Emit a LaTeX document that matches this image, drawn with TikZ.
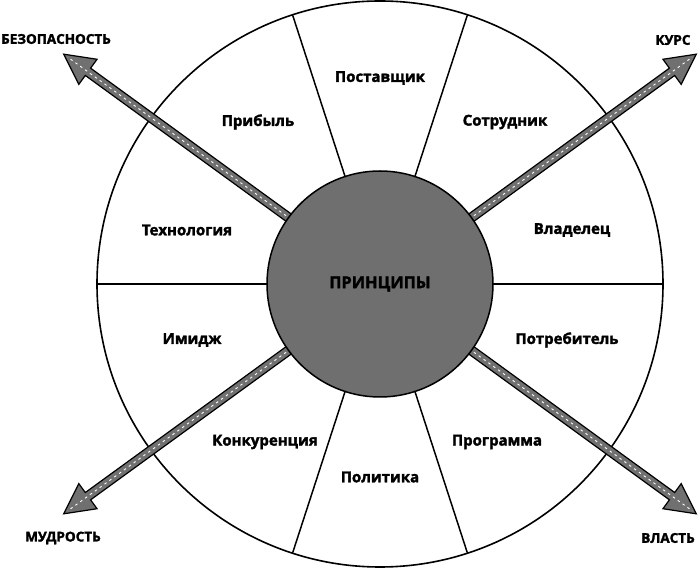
\documentclass[tikz,border=0pt]{standalone}
\usepackage{fontspec}
\setmainfont{Open Sans}[BoldFeatures={FakeBold=2}]
\definecolor{core}{RGB}{111,111,111}
\definecolor{shaft}{RGB}{112,112,112}
\begin{document}
\begin{tikzpicture}[x=1pt,y=1pt,
  lbl/.style={font=\fontsize{15}{17}\selectfont\bfseries},
  olbl/.style={font=\fontsize{13.5}{15}\selectfont\bfseries},
  divline/.style={line width=1.5pt},
  arrowbody/.style={fill=shaft,draw=black,line width=1.2pt,line join=miter},
  lane/.style={draw=white,line width=0.9pt,dash pattern=on 2.5pt off 3.5pt}]
\useasboundingbox (0,0) rectangle (699,570);
\coordinate (O) at (380,286);
\draw[line width=1.6pt] (O) circle (283);
\foreach \a in {0,72,108,180,252,288}
  \draw[divline,shift={(O)}] (\a:110) -- (\a:283);
\foreach \a in {36,144,216,324}{
  \begin{scope}[shift={(O)},rotate=\a]
    \coordinate (tip\a) at (391,0);
    \filldraw[arrowbody] (105,-4.5) -- (361,-4.5) -- (361,-15.5) -- (tip\a) -- (361,15.5) -- (361,4.5) -- (105,4.5) -- cycle;
    \draw[lane] (110,0) -- (386,0);
  \end{scope}}
\node[circle,fill=core,draw=black,line width=1.5pt,minimum size=226pt,inner sep=0pt,font=\fontsize{16.3}{18}\selectfont\bfseries] (c) at (O) {ПРИНЦИПЫ};
\node[lbl] (n1) at (380,492) {Поставщик};
\node[lbl] (n2) at (258,448) {Прибыль};
\node[lbl] (n3) at (505,448) {Сотрудник};
\node[lbl] (n4) at (187,340) {Технология};
\node[lbl] (n5) at (572,340) {Владелец};
\node[lbl] (n6) at (192,230) {Имидж};
\node[lbl] (n7) at (567,230) {Потребитель};
\node[lbl] (n8) at (265,128) {Конкуренция};
\node[lbl] (n9) at (497,128) {Программа};
\node[lbl] (n10) at (380,93) {Политика};
\node[olbl] (o1) at (56,531) {БЕЗОПАСНОСТЬ};
\node[olbl] (o2) at (673,530) {КУРС};
\node[olbl] (o3) at (63,32) {МУДРОСТЬ};
\node[olbl] (o4) at (668,32) {ВЛАСТЬ};
\end{tikzpicture}
\end{document}
